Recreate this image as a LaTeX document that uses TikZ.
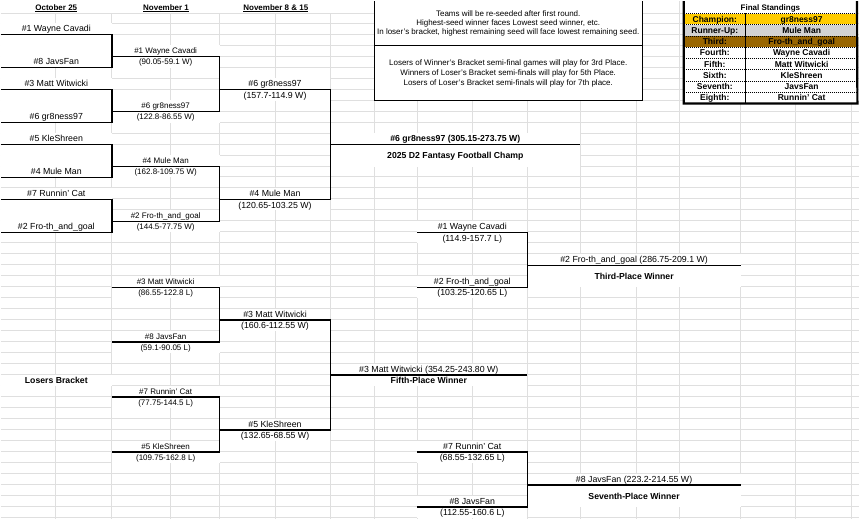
\documentclass[tikz,border=0pt]{standalone}
\usepackage{fontspec}
\setmainfont{Liberation Sans}
\usepackage{xcolor}
\usepackage{tikz}
\usetikzlibrary{positioning}

\definecolor{champgold}{RGB}{255,204,0}
\definecolor{runnergray}{RGB}{211,211,211}
\definecolor{thirdbrown}{RGB}{153,102,0}

\begin{document}
\begin{tikzpicture}[
    x=1pt, y=-1pt,
    gridline/.style={draw=gray!25, line width=0.8pt},
    bracket/.style={draw=black, line width=1.3pt},
    cell/.style={fill=white, inner sep=0pt, minimum height=11, text depth=0pt, anchor=north west},
    firstround/.style={cell, text height=6.3, font=\fontsize{8.8}{10}\selectfont},
    midround/.style={cell, text height=5.7, font=\fontsize{8}{9}\selectfont},
    titlecell/.style={cell, text height=6.2, font=\fontsize{8.7}{10}\selectfont\bfseries},
    header/.style={cell, minimum height=12, text height=5.7, font=\fontsize{8}{9}\selectfont\bfseries},
    notebox/.style={fill=white, inner sep=0pt, anchor=north west, align=center},
    standcell/.style={cell, minimum height=10.875, text height=6.1, font=\fontsize{8.5}{9}\selectfont\bfseries},
    dotline/.style={draw=black, line width=0.8pt, dash pattern=on 1pt off 1pt}
]

% background and spreadsheet grid
\fill[white] (0,0) rectangle (859,519);
\foreach \gx in {55,111,170,219,275,330,374,417,472,527,580,637,680,741,796,852}
    \draw[gridline] (\gx,0) -- (\gx,519);
\foreach \gy in {12,22,33,44,...,517}
    \draw[gridline] (0,\gy) -- (859,\gy);

% column headers
\node[header, minimum width=111] (octHead) at (0,0) {\underline{October 25}};
\node[header, minimum width=108, right=0pt of octHead] (nov1Head) {\underline{November 1}};
\node[header, minimum width=111, right=0pt of nov1Head] (nov8Head) {\underline{November 8 \& 15}};

% first round
\node[firstround, minimum width=111] (wayne1) at (0,22) {\#1 Wayne Cavadi};
\node[firstround, minimum width=111] (javs1) at (0,55) {\#8 JavsFan};
\node[firstround, minimum width=111] (matt1) at (0,77) {\#3 Matt Witwicki};
\node[firstround, minimum width=111] (gr1) at (0,110) {\#6 gr8ness97};
\node[firstround, minimum width=111] (kle1) at (0,132) {\#5 KleShreen};
\node[firstround, minimum width=111] (mule1) at (0,165) {\#4 Mule Man};
\node[firstround, minimum width=111] (runnin1) at (0,187) {\#7 Runnin' Cat};
\node[firstround, minimum width=111] (froth1) at (0,220) {\#2 Fro-th\_and\_goal};

% November 1 -- winners side
\node[midround, minimum width=108] (wayne2) at (111,44) {\#1 Wayne Cavadi};
\node[midround, minimum width=108, below=0pt of wayne2] (wayne2s) {(90.05-59.1 W)};
\node[midround, minimum width=108] (gr2) at (111,99) {\#6 gr8ness97};
\node[midround, minimum width=108, below=0pt of gr2] (gr2s) {(122.8-86.55 W)};
\node[midround, minimum width=108] (mule2) at (111,154) {\#4 Mule Man};
\node[midround, minimum width=108, below=0pt of mule2] (mule2s) {(162.8-109.75 W)};
\node[midround, minimum width=108] (froth2) at (111,209) {\#2 Fro-th\_and\_goal};
\node[midround, minimum width=108, below=0pt of froth2] (froth2s) {(144.5-77.75 W)};

% November 8 & 15 -- winners side
\node[firstround, minimum width=111] (gr3) at (219,77) {\#6 gr8ness97};
\node[firstround, minimum width=111, below=0pt of gr3] (gr3s) {(157.7-114.9 W)};
\node[firstround, minimum width=111] (mule3) at (219,187) {\#4 Mule Man};
\node[firstround, minimum width=111, below=0pt of mule3] (mule3s) {(120.65-103.25 W)};

% champion
\node[titlecell, minimum width=250] (champ) at (330,132) {\#6 gr8ness97 (305.15-273.75 W)};
\node[titlecell, minimum width=250, minimum height=22, below=0pt of champ] (champTitle) {2025 D2 Fantasy Football Champ};

% third place game
\node[firstround, minimum width=110] (wayne4) at (417,220) {\#1 Wayne Cavadi};
\node[firstround, minimum width=110, below=0pt of wayne4] (wayne4s) {(114.9-157.7 L)};
\node[firstround, minimum width=110] (froth4) at (417,275) {\#2 Fro-th\_and\_goal};
\node[firstround, minimum width=110, below=0pt of froth4] (froth4s) {(103.25-120.65 L)};
\node[firstround, minimum width=214] (third) at (527,253) {\#2 Fro-th\_and\_goal (286.75-209.1 W)};
\node[titlecell, minimum width=214, minimum height=22, below=0pt of third] (thirdTitle) {Third-Place Winner};

% losers bracket
\node[titlecell, minimum width=111] (losersTitle) at (0,374) {Losers Bracket};
\node[midround, minimum width=108] (matt2) at (111,275) {\#3 Matt Witwicki};
\node[midround, minimum width=108, below=0pt of matt2] (matt2s) {(86.55-122.8 L)};
\node[midround, minimum width=108] (javs2) at (111,330) {\#8 JavsFan};
\node[midround, minimum width=108, below=0pt of javs2] (javs2s) {(59.1-90.05 L)};
\node[midround, minimum width=108] (runnin2) at (111,385) {\#7 Runnin' Cat};
\node[midround, minimum width=108, below=0pt of runnin2] (runnin2s) {(77.75-144.5 L)};
\node[midround, minimum width=108] (kle2) at (111,440) {\#5 KleShreen};
\node[midround, minimum width=108, below=0pt of kle2] (kle2s) {(109.75-162.8 L)};

\node[firstround, minimum width=111] (matt3) at (219,308) {\#3 Matt Witwicki};
\node[firstround, minimum width=111, below=0pt of matt3] (matt3s) {(160.6-112.55 W)};
\node[firstround, minimum width=111] (kle3) at (219,418) {\#5 KleShreen};
\node[firstround, minimum width=111, below=0pt of kle3] (kle3s) {(132.65-68.55 W)};

\node[firstround, minimum width=197] (fifth) at (330,363) {\#3 Matt Witwicki (354.25-243.80 W)};
\node[titlecell, minimum width=197, below=0pt of fifth] (fifthTitle) {Fifth-Place Winner};

% seventh place game
\node[firstround, minimum width=110] (runnin4) at (417,440) {\#7 Runnin' Cat};
\node[firstround, minimum width=110, below=0pt of runnin4] (runnin4s) {(68.55-132.65 L)};
\node[firstround, minimum width=110] (javs4) at (417,495) {\#8 JavsFan};
\node[firstround, minimum width=110, below=0pt of javs4] (javs4s) {(112.55-160.6 L)};
\node[firstround, minimum width=214] (seventh) at (527,473) {\#8 JavsFan (223.2-214.55 W)};
\node[titlecell, minimum width=214, minimum height=22, below=0pt of seventh] (seventhTitle) {Seventh-Place Winner};

% rules box
\node[notebox, minimum width=268, minimum height=44, font=\fontsize{8}{9.2}\selectfont] (rulesA) at (374,0)
    {Teams will be re-seeded after first round.\\
     Highest-seed winner faces Lowest seed winner, etc.\\
     In loser's bracket, highest remaining seed will face lowest remaining seed.};
\node[notebox, minimum width=268, minimum height=55, font=\fontsize{8}{10}\selectfont, below=0pt of rulesA] (rulesB)
    {Losers of Winner's Bracket semi-final games will play for 3rd Place.\\
     Winners of Loser's Bracket semi-finals will play for 5th Place.\\
     Losers of Loser's Bracket semi-finals will play for 7th place.};
\draw[bracket] (rulesA.north west) -- (rulesB.south west) -- (rulesB.south east) -- (rulesA.north east);
\draw[bracket] (rulesA.south west) -- (rulesA.south east);

% final standings
\node[standcell, minimum width=173, minimum height=12.3, font=\fontsize{8}{9}\selectfont\bfseries] (finalHead) at (684,0) {Final Standings};
\node[standcell, fill=champgold, minimum width=61.7] (champL) at (684,12.3) {Champion:};
\node[standcell, fill=champgold, minimum width=111.3, right=0pt of champL] (champR) {gr8ness97};
\node[standcell, fill=runnergray, minimum width=61.7, below=0pt of champL] (runnerL) {Runner-Up:};
\node[standcell, fill=runnergray, minimum width=111.3, right=0pt of runnerL] (runnerR) {Mule Man};
\node[standcell, fill=thirdbrown, minimum width=61.7, below=0pt of runnerL] (thirdL) {Third:};
\node[standcell, fill=thirdbrown, minimum width=111.3, right=0pt of thirdL] (thirdR) {Fro-th\_and\_goal};
\node[standcell, minimum width=61.7, below=0pt of thirdL] (fourthL) {Fourth:};
\node[standcell, minimum width=111.3, right=0pt of fourthL] (fourthR) {Wayne Cavadi};
\node[standcell, minimum width=61.7, below=0pt of fourthL] (fifthL) {Fifth:};
\node[standcell, minimum width=111.3, right=0pt of fifthL] (fifthR) {Matt Witwicki};
\node[standcell, minimum width=61.7, below=0pt of fifthL] (sixthL) {Sixth:};
\node[standcell, minimum width=111.3, right=0pt of sixthL] (sixthR) {KleShreen};
\node[standcell, minimum width=61.7, below=0pt of sixthL] (seventhL) {Seventh:};
\node[standcell, minimum width=111.3, right=0pt of seventhL] (seventhR) {JavsFan};
\node[standcell, minimum width=61.7, below=0pt of seventhL] (eighthL) {Eighth:};
\node[standcell, minimum width=111.3, right=0pt of eighthL] (eighthR) {Runnin' Cat};

\draw[dotline] (champL.north west) -- (champR.north east);
\draw[dotline] (runnerL.north west) -- (runnerR.north east);
\draw[dotline] (thirdL.north west) -- (thirdR.north east);
\draw[dotline] (fourthL.north west) -- (fourthR.north east);
\draw[dotline] (fifthL.north west) -- (fifthR.north east);
\draw[dotline] (sixthL.north west) -- (sixthR.north east);
\draw[dotline] (seventhL.north west) -- (seventhR.north east);
\draw[dotline] (eighthL.north west) -- (eighthR.north east);
\draw[line width=0.8pt] (champL.north east) -- (eighthL.south east);
\draw[line width=2.2pt] (finalHead.north west) -- (eighthL.south west) -- (eighthR.south east) -- (finalHead.north east);

% blank merged cells inside the first round brackets
\fill[white] (wayne1.south west) rectangle (javs1.north east);
\fill[white] (matt1.south west) rectangle (gr1.north east);
\fill[white] (kle1.south west) rectangle (mule1.north east);
\fill[white] (runnin1.south west) rectangle (froth1.north east);

% bracket lines
\draw[bracket] (wayne1.south west) -- (wayne1.south east) -- (javs1.south east) -- (javs1.south west);
\draw[bracket] (matt1.south west) -- (matt1.south east) -- (gr1.south east) -- (gr1.south west);
\draw[bracket] (kle1.south west) -- (kle1.south east) -- (mule1.south east) -- (mule1.south west);
\draw[bracket] (runnin1.south west) -- (runnin1.south east) -- (froth1.south east) -- (froth1.south west);
\draw[bracket] (wayne2.south west) -- (wayne2.south east) -- (gr2.south east) -- (gr2.south west);
\draw[bracket] (mule2.south west) -- (mule2.south east) -- (froth2.south east) -- (froth2.south west);
\draw[bracket] (gr3.south west) -- (gr3.south east) -- (mule3.south east) -- (mule3.south west);
\draw[bracket] (champ.south west) -- (champ.south east);
\draw[bracket] (wayne4.south west) -- (wayne4.south east) -- (froth4.south east) -- (froth4.south west);
\draw[bracket] (third.south west) -- (third.south east);
\draw[bracket] (matt2.south west) -- (matt2.south east) -- (javs2.south east) -- (javs2.south west);
\draw[bracket] (runnin2.south west) -- (runnin2.south east) -- (kle2.south east) -- (kle2.south west);
\draw[bracket] (matt3.south west) -- (matt3.south east) -- (kle3.south east) -- (kle3.south west);
\draw[bracket] (fifth.south west) -- (fifth.south east);
\draw[bracket] (runnin4.south west) -- (runnin4.south east) -- (javs4.south east) -- (javs4.south west);
\draw[bracket] (seventh.south west) -- (seventh.south east);

\end{tikzpicture}
\end{document}
